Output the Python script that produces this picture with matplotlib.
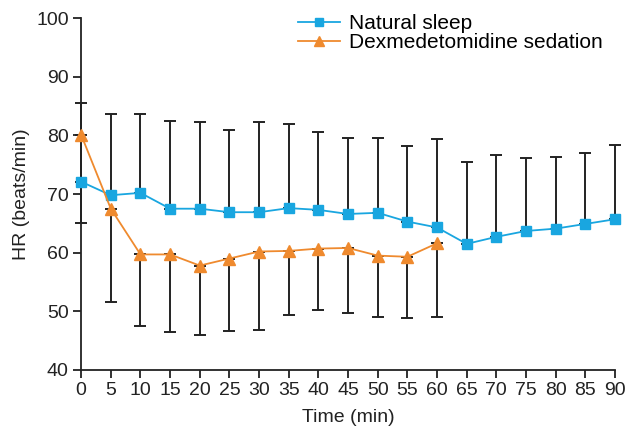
import numpy as np
import matplotlib
matplotlib.use("Agg")
import matplotlib.pyplot as plt

plt.rcParams['font.family'] = ['Liberation Sans', 'DejaVu Sans']

# 时间点 (min)
time_ns = [0, 5, 10, 15, 20, 25, 30, 35, 40, 45, 50, 55, 60, 65, 70, 75, 80, 85, 90]
hr_ns = [72.1, 69.8, 70.2, 67.5, 67.5, 66.9, 66.9, 67.6, 67.3, 66.6, 66.8, 65.3, 64.3,
         61.5, 62.7, 63.7, 64.1, 64.9, 65.7]
hr_ns_upper = [85.5, 83.6, 83.6, 82.5, 82.3, 81.0, 82.2, 82.0, 80.5, 79.6, 79.5, 78.2, 79.4,
               75.5, 76.6, 76.1, 76.3, 77.0, 78.4]

time_dex = [0, 5, 10, 15, 20, 25, 30, 35, 40, 45, 50, 55, 60]
hr_dex = [80.1, 67.5, 59.7, 59.7, 57.8, 59.0, 60.2, 60.3, 60.7, 60.8, 59.5, 59.3, 61.6]
hr_dex_lower = [65.0, 51.6, 47.5, 46.5, 45.9, 46.6, 46.8, 49.3, 50.2, 49.7, 49.1, 48.9, 49.1]

blue = "#19a6e0"
orange = "#ef8a2e"
dark = "#222222"
fs = 14

fig = plt.figure(figsize=(6.34, 4.42), dpi=100)
ax = fig.add_axes([0.128, 0.163, 0.842, 0.796])

# 误差线: 自然睡眠只画上方, 镇静只画下方
ns_err = [np.zeros(len(hr_ns)), np.array(hr_ns_upper) - np.array(hr_ns)]
dex_err = [np.array(hr_dex) - np.array(hr_dex_lower), np.zeros(len(hr_dex))]
for t, v, e in [(time_ns, hr_ns, ns_err), (time_dex, hr_dex, dex_err)]:
    eb = ax.errorbar(t, v, yerr=e, fmt="none", ecolor=dark,
                     elinewidth=1.4, capsize=4.5, capthick=1.4, zorder=1)
    for art in eb.get_children():
        art.set_clip_on(False)

ax.plot(time_ns, hr_ns, color=blue, lw=1.3, marker="s", ms=7, mec=blue,
        label="Natural sleep", zorder=3, clip_on=False)
ax.plot(time_dex, hr_dex, color=orange, lw=1.3, marker="^", ms=8, mec=orange,
        label="Dexmedetomidine sedation", zorder=3, clip_on=False)

ax.set_xlim(0, 90)
ax.set_ylim(40, 100)
ax.set_xticks(time_ns)
ax.set_yticks([40, 50, 60, 70, 80, 90, 100])
ax.tick_params(labelsize=fs, width=1.3, length=6, pad=3, color=dark, labelcolor=dark)
for s in ["top", "right"]:
    ax.spines[s].set_visible(False)
for s in ["left", "bottom"]:
    ax.spines[s].set_linewidth(1.3)
    ax.spines[s].set_color(dark)

ax.set_xlabel("Time (min)", fontsize=fs, color=dark, labelpad=7)
ax.set_ylabel("HR (beats/min)", fontsize=fs, color=dark, labelpad=4)

fig.legend(loc="upper left", bbox_to_anchor=(298 / 634, 1 - 14 / 442), frameon=False,
           fontsize=15, handlelength=2.0, labelspacing=0.0, handletextpad=0.45,
           borderpad=0, borderaxespad=0, markerscale=0.85)

fig.savefig("out.png", dpi=100)
